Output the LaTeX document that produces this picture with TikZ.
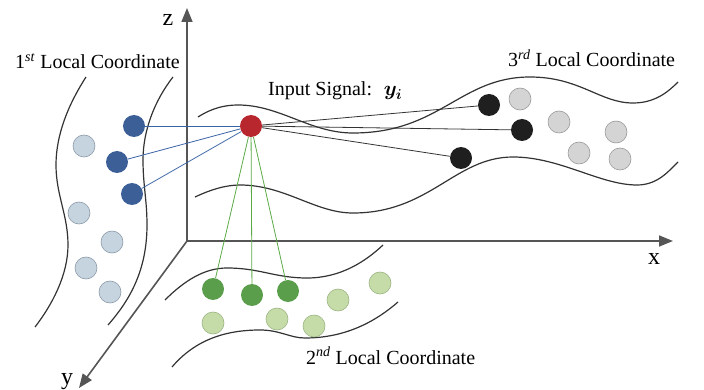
\documentclass[tikz,border=0pt]{standalone}
\usepackage{fontspec}
\setmainfont{Liberation Serif}
\usepackage{bm}
\usetikzlibrary{arrows.meta}
\definecolor{axisgray}{HTML}{555555}
\definecolor{curvegray}{HTML}{333333}
\definecolor{bluedark}{HTML}{3D5F98}
\definecolor{bluelight}{HTML}{C6D4E0}
\definecolor{blueedge}{HTML}{8C9BAA}
\definecolor{reddot}{HTML}{B8262E}
\definecolor{greendark}{HTML}{5A9E4B}
\definecolor{greenlight}{HTML}{C5DCA8}
\definecolor{greenedge}{HTML}{9DB584}
\definecolor{blackdot}{HTML}{1F1F1F}
\definecolor{greydot}{HTML}{D4D4D4}
\definecolor{greyedge}{HTML}{9A9A9A}
\definecolor{lineblue}{HTML}{3A63A6}
\definecolor{linegreen}{HTML}{5BAA45}
\definecolor{lineblack}{HTML}{333333}
\begin{document}
\begin{tikzpicture}[x=1pt,y=-1pt,
  font=\fontsize{20}{24}\selectfont,
  dot/.style={circle,minimum size=22pt,inner sep=0pt},
  dkblue/.style={dot,fill=bluedark},
  ltblue/.style={dot,fill=bluelight,draw=blueedge,line width=0.6pt},
  rdot/.style={dot,fill=reddot},
  dkgreen/.style={dot,fill=greendark},
  ltgreen/.style={dot,fill=greenlight,draw=greenedge,line width=0.6pt},
  bkdot/.style={dot,fill=blackdot},
  gydot/.style={dot,fill=greydot,draw=greyedge,line width=0.6pt},
  axis/.style={draw=axisgray,line width=1.6pt,-{Triangle[length=14pt,width=11pt]}},
  band/.style={draw=curvegray,line width=1.2pt},
  lblue/.style={draw=lineblue,line width=0.8pt},
  lgreen/.style={draw=linegreen,line width=0.8pt},
  lblack/.style={draw=lineblack,line width=0.8pt},
  lbl/.style={anchor=base west,inner sep=0pt},
  axlbl/.style={anchor=base,inner sep=0pt,font=\fontsize{24}{28}\selectfont}]
\useasboundingbox (0,0) rectangle (704,390);

% axes
\coordinate (O) at (187,241);
\coordinate (ztip) at (187,8);
\coordinate (xtip) at (673,241);
\coordinate (ytip) at (79,388);
\draw[axis] (O) -- (ztip);
\draw[axis] (O) -- (xtip);
\draw[axis] (O) -- (ytip);
\node[axlbl] (zl) at (168,26) {z};
\node[axlbl] (xl) at (654,265) {x};
\node[axlbl] (yl) at (67,384) {y};

% 1st band
\draw[band] (86,77) .. controls (68,105) and (56,135) .. (56,165)
  .. controls (56,195) and (68,215) .. (68,245)
  .. controls (68,275) and (52,305) .. (35,327);
\draw[band] (173,77) .. controls (155,100) and (143,130) .. (143,160)
  .. controls (143,185) and (147,200) .. (147,225)
  .. controls (147,270) and (130,300) .. (108,325);

% 3rd band
\draw[band] (198,117) .. controls (212,108) and (225,105) .. (238,105)
  .. controls (280,105) and (310,133) .. (353,133)
  .. controls (440,133) and (460,77) .. (530,77)
  .. controls (580,77) and (600,103) .. (633,103)
  .. controls (655,103) and (668,92) .. (678,82);
\draw[band] (195,197) .. controls (210,190) and (225,185) .. (240,185)
  .. controls (285,185) and (315,213) .. (353,213)
  .. controls (430,213) and (455,157) .. (513,157)
  .. controls (560,157) and (600,185) .. (637,185)
  .. controls (657,185) and (668,172) .. (678,162);

% 2nd band
\draw[band] (165,300) .. controls (185,280) and (205,268) .. (227,268)
  .. controls (260,268) and (275,278) .. (307,278)
  .. controls (340,278) and (365,262) .. (383,245);
\draw[band] (172,367) .. controls (195,340) and (225,330) .. (260,330)
  .. controls (280,330) and (290,338) .. (305,338)
  .. controls (345,338) and (375,322) .. (398,302);

% dots 1st
\node[ltblue] (lb1) at (84,146) {};
\node[ltblue] (lb2) at (79,213) {};
\node[ltblue] (lb3) at (112,242) {};
\node[ltblue] (lb4) at (86,268) {};
\node[ltblue] (lb5) at (110,292) {};
\node[dkblue] (b1) at (134,126) {};
\node[dkblue] (b2) at (117,162) {};
\node[dkblue] (b3) at (132,194) {};

% dots 2nd
\node[ltgreen] (lg1) at (213,323) {};
\node[ltgreen] (lg2) at (277,319) {};
\node[ltgreen] (lg3) at (314,326) {};
\node[ltgreen] (lg4) at (338,300) {};
\node[ltgreen] (lg5) at (380,283) {};
\node[dkgreen] (g1) at (213,289) {};
\node[dkgreen] (g2) at (252,295) {};
\node[dkgreen] (g3) at (288,291) {};

% dots 3rd
\node[gydot] (gr1) at (520,99) {};
\node[gydot] (gr2) at (559,122) {};
\node[gydot] (gr3) at (616,132) {};
\node[gydot] (gr4) at (579,153) {};
\node[gydot] (gr5) at (620,159) {};
\node[bkdot] (k1) at (489,105) {};
\node[bkdot] (k2) at (522,130) {};
\node[bkdot] (k3) at (461,158) {};

% input
\node[rdot] (r) at (251,126) {};

% connectors
\draw[lblue] (r) -- (b1);
\draw[lblue] (r) -- (b2);
\draw[lblue] (r) -- (b3);
\draw[lgreen] (r) -- (g1);
\draw[lgreen] (r) -- (g2);
\draw[lgreen] (r) -- (g3);
\draw[lblack] (r) -- (k1);
\draw[lblack] (r) -- (k2);
\draw[lblack] (r) -- (k3);

% labels
\node[lbl] (t1) at (15,69) {1\textsuperscript{\textit{st}} Local Coordinate};
\node[lbl] (t3) at (508,67) {3\textsuperscript{\textit{rd}} Local Coordinate};
\node[lbl] (t2) at (306,364) {2\textsuperscript{\textit{nd}} Local Coordinate};
\node[lbl] (tin) at (268,96) {Input Signal: \ $\bm{y_i}$};
\end{tikzpicture}
\end{document}
